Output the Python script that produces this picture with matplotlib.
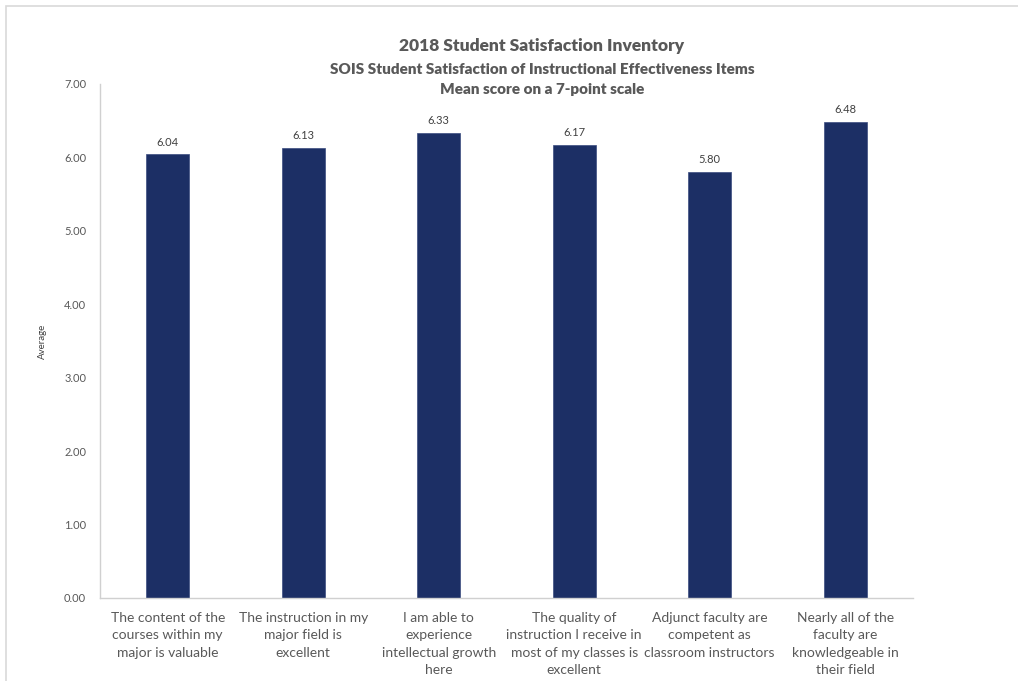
import numpy as np
import matplotlib
matplotlib.use("Agg")
import matplotlib.pyplot as plt
from matplotlib.patches import Rectangle

# data
items = [
    "The content of the\ncourses within my\nmajor is valuable",
    "The instruction in my\nmajor field is\nexcellent",
    "I am able to\nexperience\nintellectual growth\nhere",
    "The quality of\ninstruction I receive in\nmost of my classes is\nexcellent",
    "Adjunct faculty are\ncompetent as\nclassroom instructors",
    "Nearly all of the\nfaculty are\nknowledgeable in\ntheir field",
]
means = [6.04, 6.13, 6.33, 6.17, 5.80, 6.48]
yticks = [0, 1, 2, 3, 4, 5, 6, 7]

plt.rcParams['font.family'] = ['Lato', 'DejaVu Sans']
txt = '#595959'

fig = plt.figure(figsize=(10.18, 6.81), dpi=100)
ax = fig.add_axes([100/1018, 1 - 598/681, 813/1018, (598-84)/681])

# chart border
fig.patches.append(Rectangle((6/1018, -0.1), 1.2, 1 - 6/681 + 0.1, transform=fig.transFigure,
                             fill=False, edgecolor='#D9D9D9', linewidth=1.2))

x = np.arange(len(items))
bars = ax.bar(x, means, width=0.32, color='#1C2F65', edgecolor='#3A4C80', linewidth=0.5)

for xi, v in zip(x, means):
    ax.annotate(f"{v:.2f}", (xi, v), xytext=(0, 5), textcoords='offset points',
                ha='center', va='bottom', fontsize=8, color='#404040')

ax.set_xlim(-0.5, len(items) - 0.5)
ax.set_ylim(0, 7)
ax.set_yticks(yticks)
ax.set_yticklabels([f"{t:.2f}" for t in yticks], fontsize=8, color=txt)
ax.set_xticks(x)
ax.set_xticklabels(items, fontsize=10, color=txt, linespacing=1.55, va='top')
ax.tick_params(axis='both', length=0)
ax.tick_params(axis='x', pad=10)
ax.tick_params(axis='y', pad=10)

for s in ['top', 'right']:
    ax.spines[s].set_visible(False)
for s in ['left', 'bottom']:
    ax.spines[s].set_color('#D0D0D0')
    ax.spines[s].set_linewidth(1.0)

ax.set_ylabel('Average', fontsize=7, color='#404040', labelpad=12)

fig.text(542/1018, 1 - 46/681, '2018 Student Satisfaction Inventory', ha='center', va='center',
         fontsize=12.5, fontweight='heavy', color=txt)
fig.text(542/1018, 1 - 69/681, 'SOIS Student Satisfaction of Instructional Effectiveness Items',
         ha='center', va='center', fontsize=11, fontweight='heavy', color=txt)
fig.text(542/1018, 1 - 89/681, 'Mean score on a 7-point scale', ha='center', va='center',
         fontsize=11, fontweight='heavy', color=txt)

fig.savefig('out.png', dpi=100)
